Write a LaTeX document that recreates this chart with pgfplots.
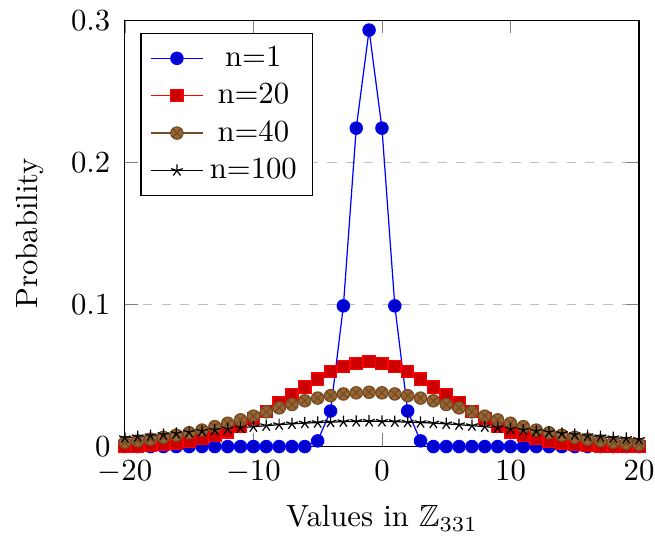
\documentclass[border=0pt]{standalone}
\usepackage{pgfplots}
\pgfplotsset{compat=1.18}
\usepackage{pgfplotstable}
\usepackage{amssymb}

% columns: x, n=1, n=20, n=40, n=100
\pgfplotstableread{
x    a      b       c       d
-20  0      0.0002  0.0030  0.0062
-19  0      0.0004  0.0040  0.0069
-18  0      0.0008  0.0052  0.0076
-17  0      0.0014  0.0065  0.0084
-16  0      0.0023  0.0080  0.0092
-15  0      0.0037  0.0097  0.0100
-14  0      0.0055  0.0116  0.0108
-13  0      0.0078  0.0140  0.0116
-12  0      0.0104  0.0164  0.0124
-11  0      0.0146  0.0188  0.0132
-10  0      0.0196  0.0214  0.0140
-9   0      0.0246  0.0244  0.0147
-8   0      0.0307  0.0272  0.0154
-7   0      0.0365  0.0296  0.0160
-6   0      0.0419  0.0322  0.0165
-5   0.004  0.0474  0.0341  0.0169
-4   0.025  0.0528  0.0358  0.0172
-3   0.099  0.0563  0.0370  0.0175
-2   0.224  0.0586  0.0378  0.0177
-1   0.293  0.0598  0.0382  0.0178
0    0.224  0.0586  0.0378  0.0177
1    0.099  0.0563  0.0370  0.0175
2    0.025  0.0528  0.0358  0.0172
3    0.004  0.0474  0.0341  0.0169
4    0      0.0419  0.0322  0.0165
5    0      0.0365  0.0296  0.0160
6    0      0.0307  0.0272  0.0154
7    0      0.0246  0.0244  0.0147
8    0      0.0196  0.0214  0.0140
9    0      0.0146  0.0188  0.0132
10   0      0.0104  0.0164  0.0124
11   0      0.0078  0.0140  0.0116
12   0      0.0055  0.0116  0.0108
13   0      0.0037  0.0097  0.0100
14   0      0.0023  0.0080  0.0092
15   0      0.0014  0.0065  0.0084
16   0      0.0008  0.0052  0.0076
17   0      0.0004  0.0040  0.0069
18   0      0.0002  0.0030  0.0062
19   0      0.0001  0.0023  0.0056
20   0      0.0001  0.0016  0.0050
}\probs

\begin{document}
\begin{tikzpicture}
  \begin{axis}[%
      ,scale only axis
      ,width=167.6pt, height=139pt
      ,xlabel={Values in $\mathbb{Z}_{331}$}
      ,ylabel=Probability
      ,ylabel style={yshift=2pt}
      ,yticklabel style={xshift=-1.2pt}
      ,xticklabel style={yshift=-1pt}
      ,xlabel style={yshift=-0.5pt}
      ,xmin=-20, xmax=20
      ,ymin=0, ymax=0.3
      ,ytick={0,0.1,0.2,0.3}
      ,ymajorgrids=true
      ,grid style={dashed}
      ,legend pos=north west
      ]
    \addplot table[x=x, y=a] {\probs};
    \addplot table[x=x, y=b] {\probs};
    \addplot table[x=x, y=c] {\probs};
    \addplot table[x=x, y=d] {\probs};
    \legend{n=1, n=20, n=40, n=100}
  \end{axis}
  % the reference is cut just right of the axis, through the last tick label
  \coordinate (bbsw) at ([xshift=-2pt,yshift=-2.5pt]current bounding box.south west);
  \coordinate (bbne) at (current bounding box.north east);
  \coordinate (cut) at ([xshift=5.2pt]current axis.north east);
  \pgfresetboundingbox
  \path (bbsw) rectangle (cut |- bbne);
\end{tikzpicture}
\end{document}
